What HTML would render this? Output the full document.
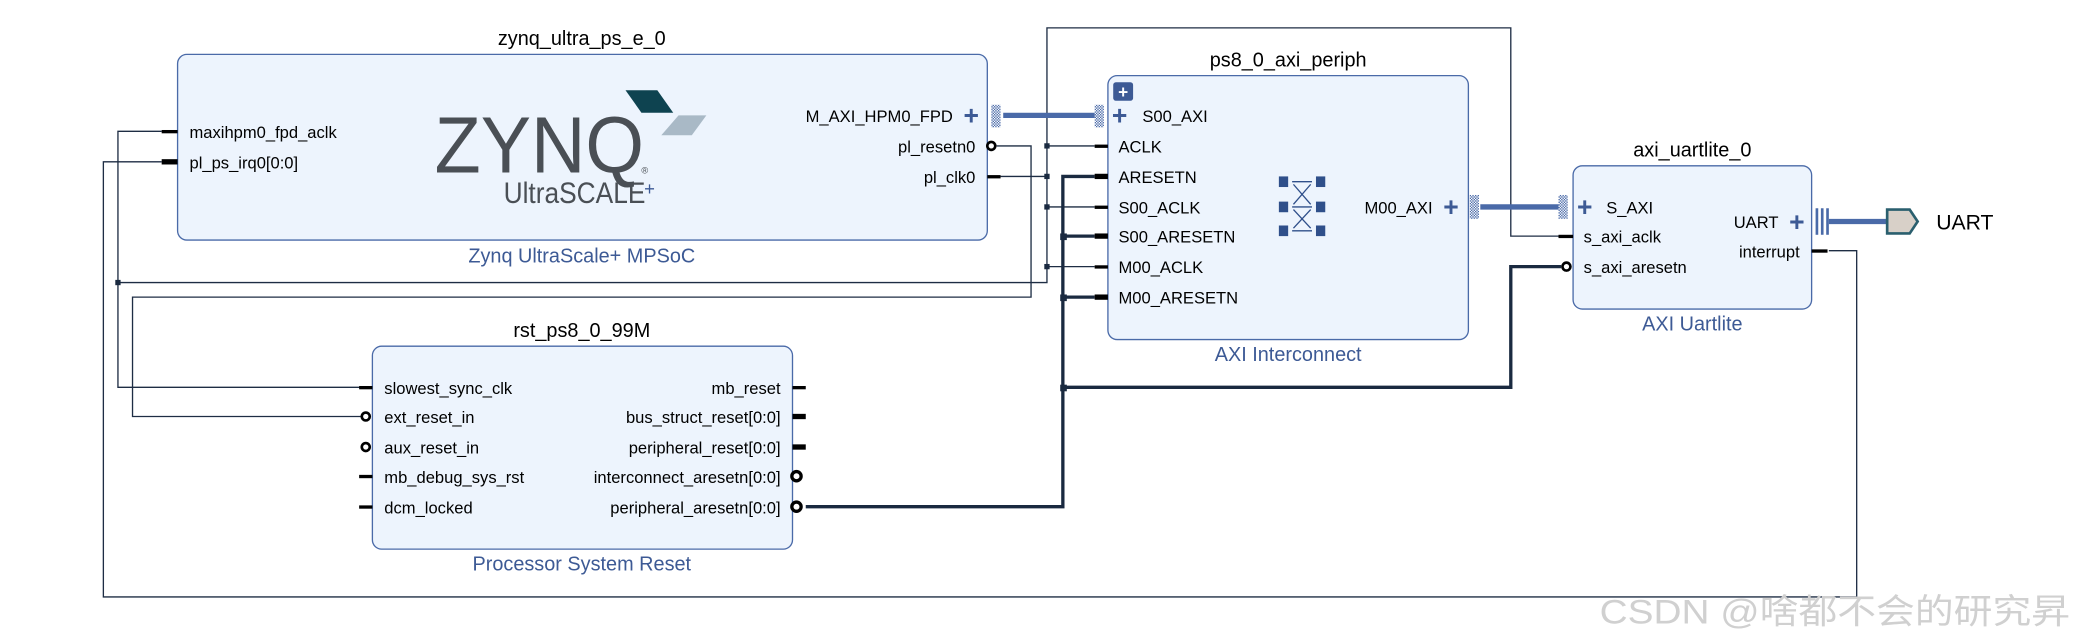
<!DOCTYPE html>
<html><head><meta charset="utf-8"><style>
html,body{margin:0;padding:0;background:#fff;}
svg{display:block;}
text{font-family:"Liberation Sans","Noto Sans CJK SC",sans-serif;}
</style></head><body>
<svg width="2078" height="642" viewBox="0 0 1568 484" preserveAspectRatio="none" xmlns="http://www.w3.org/2000/svg">
<defs>
<pattern id="hatch" width="2" height="2" patternUnits="userSpaceOnUse"><rect width="1" height="1" fill="#4a6aa8"/><rect x="1" y="1" width="1" height="1" fill="#4a6aa8"/></pattern>
</defs>
<!-- boxes -->
<rect x="134" y="41" width="611" height="140" rx="7" fill="#edf4fd" stroke="#4a6aa8" stroke-width="1"/>
<rect x="836" y="57" width="272" height="199" rx="7" fill="#edf4fd" stroke="#4a6aa8" stroke-width="1"/>
<rect x="1187" y="125" width="180" height="108" rx="7" fill="#edf4fd" stroke="#4a6aa8" stroke-width="1"/>
<rect x="281" y="261" width="317" height="153" rx="7" fill="#edf4fd" stroke="#4a6aa8" stroke-width="1"/>

<!-- thin wires -->
<g fill="none" stroke="#1e2d44" stroke-width="1">
<polyline points="790,133 790,21 1140,21 1140,178 1176,178"/>
<polyline points="755,133 790,133 790,213 89,213"/>
<polyline points="122,99 89,99 89,292 272,292"/>
<line x1="790" y1="110" x2="826" y2="110"/>
<line x1="790" y1="156" x2="826" y2="156"/>
<line x1="790" y1="201" x2="826" y2="201"/>
<polyline points="752,110 778,110 778,224 100,224 100,314 272,314"/>
<polyline points="1380,189 1401,189 1401,450 78,450 78,122 122,122"/>
</g>
<!-- thick wires -->
<g fill="none" stroke="#1a2a40" stroke-width="2.5">
<polyline points="608,382 802,382 802,133 826,133"/>
<line x1="802" y1="178" x2="826" y2="178"/>
<line x1="802" y1="224" x2="826" y2="224"/>
<polyline points="802,292 1140,292 1140,201 1178,201"/>
</g>
<g fill="#1a2a40">
<rect x="87" y="211" width="4" height="4"/><rect x="788" y="108" width="4" height="4"/><rect x="788" y="131" width="4" height="4"/>
<rect x="788" y="154" width="4" height="4"/><rect x="788" y="199" width="4" height="4"/>
<rect x="800" y="176" width="5" height="5"/><rect x="800" y="222" width="5" height="5"/><rect x="800" y="290" width="5" height="5"/>
</g>
<!-- bus wires -->
<g stroke="#4a6aa8" stroke-width="4">
<line x1="757" y1="87" x2="826" y2="87"/>
<line x1="1117" y1="156" x2="1176" y2="156"/>
<line x1="1380" y1="167" x2="1424" y2="167"/>
</g>
<rect x="748" y="79" width="7" height="17" fill="url(#hatch)"/>
<rect x="826" y="79" width="7" height="17" fill="url(#hatch)"/>
<rect x="1109" y="147" width="7" height="18" fill="url(#hatch)"/>
<rect x="1176" y="147" width="7" height="18" fill="url(#hatch)"/>
<g stroke="#4a6aa8" stroke-width="2">
<line x1="1371" y1="157" x2="1371" y2="177"/><line x1="1375" y1="157" x2="1375" y2="177"/><line x1="1379" y1="157" x2="1379" y2="177"/>
</g>
<polygon points="1424,158 1441,158 1447,167 1441,176 1424,176" fill="#d8d0c8" stroke="#2a5f6e" stroke-width="2"/>
<text x="1461" y="173" font-size="16" fill="#000">UART</text>

<!-- pins -->
<g fill="#000">
<rect x="122" y="98" width="12" height="2.5"/><rect x="122" y="120" width="12" height="4"/>
<rect x="745" y="132" width="10" height="2.5"/>
<rect x="826" y="109" width="10" height="2.5"/><rect x="826" y="131" width="10" height="4"/>
<rect x="826" y="155" width="10" height="2.5"/><rect x="826" y="176" width="10" height="4"/>
<rect x="826" y="200" width="10" height="2.5"/><rect x="826" y="222" width="10" height="4"/>
<rect x="1176" y="177" width="11" height="2.5"/><rect x="1367" y="188" width="12" height="2.5"/>
<rect x="271" y="291" width="10" height="2.5"/><rect x="271" y="358" width="10" height="2.5"/><rect x="271" y="381" width="10" height="2.5"/>
<rect x="598" y="291" width="10" height="2.5"/><rect x="598" y="312" width="10" height="4"/><rect x="598" y="335" width="10" height="4"/>
</g>
<g fill="#fff" stroke="#000" stroke-width="2">
<circle cx="748" cy="110" r="3"/><circle cx="1182" cy="201" r="3"/>
<circle cx="276" cy="314" r="3"/><circle cx="276" cy="337" r="3"/>
<circle cx="601" cy="359" r="3.5" stroke-width="2.5"/><circle cx="601" cy="382" r="3.5" stroke-width="2.5"/>
</g>
<!-- plus icons -->
<g fill="#3d5a95" font-size="20" font-weight="bold">
<text x="727" y="94">+</text><text x="839" y="94">+</text><text x="1089" y="163">+</text>
<text x="1190" y="163">+</text><text x="1350" y="174">+</text>
</g>
<rect x="840" y="62" width="15" height="14" rx="2" fill="#3d5a95"/>
<text x="847.5" y="74" font-size="13" fill="#fff" text-anchor="middle" font-weight="bold">+</text>

<!-- crossbar icon -->
<g fill="#2f4f8a">
<rect x="965" y="133" width="7" height="8"/><rect x="993" y="133" width="7" height="8"/>
<rect x="965" y="152" width="7" height="8"/><rect x="993" y="152" width="7" height="8"/>
<rect x="965" y="170" width="7" height="8"/><rect x="993" y="170" width="7" height="8"/>
</g>
<g stroke="#2f4f8a" stroke-width="1" fill="none">
<line x1="975" y1="137" x2="990" y2="137"/><line x1="975" y1="156" x2="990" y2="156"/><line x1="975" y1="174" x2="990" y2="174"/>
<line x1="976" y1="139" x2="989" y2="154"/><line x1="989" y1="139" x2="976" y2="154"/>
<line x1="976" y1="158" x2="989" y2="172"/><line x1="989" y1="158" x2="976" y2="172"/>
</g>

<!-- ZYNQ logo -->
<text x="328" y="130" font-size="60" fill="#4a4f55" textLength="158" lengthAdjust="spacingAndGlyphs">ZYNQ</text>
<text x="484" y="131" font-size="7" fill="#4a4f55">®</text>
<polygon points="472,68 496,68 508,85 484,85" fill="#0e4350"/>
<polygon points="512,87 533,87 522,102 499,102" fill="#a9b9c6"/>
<text x="380" y="153" font-size="22" fill="#4a4f55" textLength="107" lengthAdjust="spacingAndGlyphs">UltraSCALE</text>
<text x="486" y="147" font-size="14" fill="#3d5a95">+</text>

<!-- titles -->
<g font-size="15" fill="#000" text-anchor="middle">
<text x="439" y="34">zynq_ultra_ps_e_0</text>
<text x="972" y="50">ps8_0_axi_periph</text>
<text x="1277" y="118">axi_uartlite_0</text>
<text x="439" y="254">rst_ps8_0_99M</text>
</g>
<g font-size="15" fill="#3d5a95" text-anchor="middle">
<text x="439" y="198">Zynq UltraScale+ MPSoC</text>
<text x="972" y="272">AXI Interconnect</text>
<text x="1277" y="249">AXI Uartlite</text>
<text x="439" y="430">Processor System Reset</text>
</g>
<!-- port labels -->
<g font-size="12.5" fill="#000">
<text x="143" y="104">maxihpm0_fpd_aclk</text>
<text x="143" y="127">pl_ps_irq0[0:0]</text>
<text x="862" y="92">S00_AXI</text>
<text x="844" y="115">ACLK</text>
<text x="844" y="138">ARESETN</text>
<text x="844" y="161">S00_ACLK</text>
<text x="844" y="183">S00_ARESETN</text>
<text x="844" y="206">M00_ACLK</text>
<text x="844" y="229">M00_ARESETN</text>
<text x="1212" y="161">S_AXI</text>
<text x="1195" y="183">s_axi_aclk</text>
<text x="1195" y="206">s_axi_aresetn</text>
<text x="290" y="297">slowest_sync_clk</text>
<text x="290" y="319">ext_reset_in</text>
<text x="290" y="342">aux_reset_in</text>
<text x="290" y="364">mb_debug_sys_rst</text>
<text x="290" y="387">dcm_locked</text>
</g>
<g font-size="12.5" fill="#000" text-anchor="end">
<text x="719" y="92">M_AXI_HPM0_FPD</text>
<text x="736" y="115">pl_resetn0</text>
<text x="736" y="138">pl_clk0</text>
<text x="1081" y="161">M00_AXI</text>
<text x="1342" y="172">UART</text>
<text x="1358" y="194">interrupt</text>
<text x="589" y="297">mb_reset</text>
<text x="589" y="319">bus_struct_reset[0:0]</text>
<text x="589" y="342">peripheral_reset[0:0]</text>
<text x="589" y="364">interconnect_aresetn[0:0]</text>
<text x="589" y="387">peripheral_aresetn[0:0]</text>
</g>
<text x="1207" y="470" font-size="26" fill="#d0d0d0" textLength="355" lengthAdjust="spacingAndGlyphs">CSDN @啥都不会的研究昇</text>
</svg>
</body></html>
